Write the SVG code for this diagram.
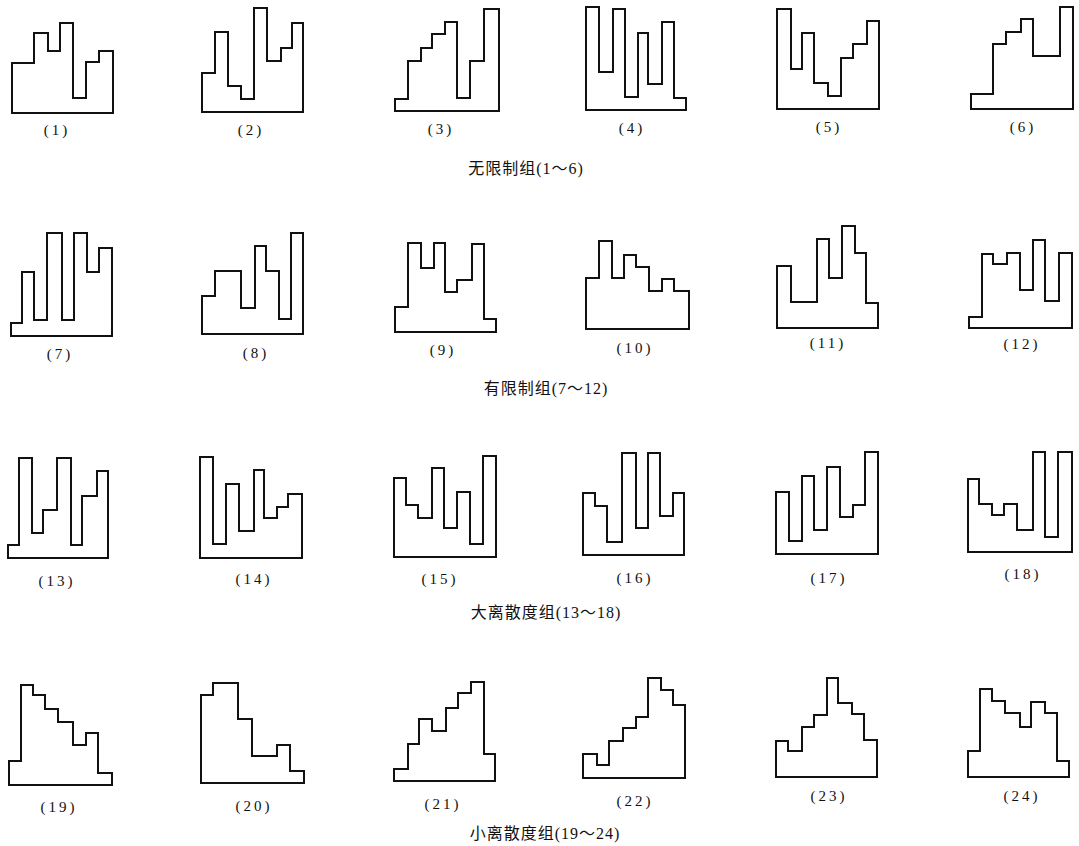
<svg xmlns="http://www.w3.org/2000/svg" width="1079" height="846" viewBox="0 0 1079 846">
<style>
.h{fill:none;stroke:#111;stroke-width:2;stroke-linejoin:miter}
.l{font-family:"Liberation Serif",serif;font-size:15px;fill:#111;text-anchor:middle;letter-spacing:3px}
.t{font-family:"Liberation Serif","Noto Sans CJK SC",serif;font-size:16px;fill:#111;text-anchor:middle;letter-spacing:1px}
</style>
<rect width="1079" height="846" fill="#fff"/>
<g id="row1">
<g id="h1"><path class="h" d="M12,113 V63 H34 V33 H48 V51 H60 V23 H73 V98 H86 V62 H99 V51 H113 V113 Z"/><text class="l" x="57" y="135">(1)</text></g>
<g id="h2"><path class="h" d="M202,112 V73 H215 V32 H228 V86 H241 V99 H254 V8 H267 V61 H281 V48 H292 V23 H303 V112 Z"/><text class="l" x="251" y="135">(2)</text></g>
<g id="h3"><path class="h" d="M395,111 V99 H408 V61 H421 V48 H432 V34 H445 V22 H457 V98 H470 V61 H484 V9 H499 V111 Z"/><text class="l" x="441" y="134">(3)</text></g>
<g id="h4"><path class="h" d="M586,110 V7 H599 V72 H613 V9 H625 V97 H638 V33 H648 V84 H662 V22 H674 V98 H686 V110 Z"/><text class="l" x="632" y="133">(4)</text></g>
<g id="h5"><path class="h" d="M777,109 V9 H791 V69 H802 V33 H814 V83 H828 V96 H841 V58 H853 V44 H867 V21 H879 V109 Z"/><text class="l" x="829" y="132">(5)</text></g>
<g id="h6"><path class="h" d="M971,109 V94 H993 V44 H1006 V32 H1021 V19 H1033 V56 H1060 V7 H1073 V109 Z"/><text class="l" x="1023" y="132">(6)</text></g>
<text class="t" x="526" y="174">无限制组(1～6)</text>
</g>
<g id="row2">
<g id="h7"><path class="h" d="M11,336 V323 H22 V272 H34 V320 H47 V233 H62 V320 H74 V233 H87 V272 H99 V248 H112 V336 Z"/><text class="l" x="60" y="359">(7)</text></g>
<g id="h8"><path class="h" d="M202,334 V296 H215 V271 H241 V308 H255 V246 H266 V271 H279 V319 H291 V233 H303 V334 Z"/><text class="l" x="256" y="358">(8)</text></g>
<g id="h9"><path class="h" d="M395,332 V307 H408 V243 H421 V268 H434 V243 H445 V292 H457 V280 H472 V244 H484 V319 H496 V332 Z"/><text class="l" x="443" y="355">(9)</text></g>
<g id="h10"><path class="h" d="M586,329 V278 H599 V241 H612 V278 H624 V255 H636 V267 H649 V291 H662 V279 H674 V291 H689 V329 Z"/><text class="l" x="635" y="353">(10)</text></g>
<g id="h11"><path class="h" d="M777,328 V266 H791 V302 H817 V239 H829 V278 H842 V226 H855 V253 H866 V303 H878 V328 Z"/><text class="l" x="828" y="348">(11)</text></g>
<g id="h12"><path class="h" d="M969,328 V317 H982 V254 H993 V264 H1007 V253 H1020 V290 H1033 V240 H1045 V301 H1059 V253 H1072 V328 Z"/><text class="l" x="1022" y="349">(12)</text></g>
<text class="t" x="546" y="394">有限制组(7～12)</text>
</g>
<g id="row3">
<g id="h13"><path class="h" d="M8,558 V545 H19 V458 H32 V533 H43 V510 H57 V458 H71 V545 H82 V496 H97 V471 H108 V558 Z"/><text class="l" x="57" y="586">(13)</text></g>
<g id="h14"><path class="h" d="M200,558 V457 H213 V544 H226 V484 H239 V531 H254 V470 H264 V518 H277 V507 H288 V494 H302 V558 Z"/><text class="l" x="254" y="584">(14)</text></g>
<g id="h15"><path class="h" d="M394,557 V478 H406 V505 H418 V518 H432 V468 H444 V528 H457 V492 H470 V544 H483 V456 H496 V557 Z"/><text class="l" x="440" y="584">(15)</text></g>
<g id="h16"><path class="h" d="M583,555 V493 H595 V506 H607 V542 H622 V453 H636 V528 H648 V453 H660 V516 H673 V493 H684 V555 Z"/><text class="l" x="635" y="583">(16)</text></g>
<g id="h17"><path class="h" d="M776,554 V492 H789 V541 H802 V476 H814 V530 H827 V467 H840 V517 H853 V505 H865 V452 H878 V554 Z"/><text class="l" x="829" y="583">(17)</text></g>
<g id="h18"><path class="h" d="M968,552 V479 H979 V504 H992 V515 H1004 V504 H1017 V530 H1033 V452 H1045 V537 H1058 V452 H1072 V552 Z"/><text class="l" x="1023" y="579">(18)</text></g>
<text class="t" x="546" y="618">大离散度组(13～18)</text>
</g>
<g id="row4">
<g id="h19"><path class="h" d="M9,785 V761 H21 V685 H33 V695 H45 V709 H58 V722 H73 V745 H86 V733 H98 V773 H112 V785 Z"/><text class="l" x="59" y="812">(19)</text></g>
<g id="h20"><path class="h" d="M201,783 V695 H213 V683 H238 V719 H252 V756 H277 V745 H290 V771 H304 V783 Z"/><text class="l" x="254" y="811">(20)</text></g>
<g id="h21"><path class="h" d="M394,781 V769 H408 V744 H419 V719 H432 V731 H446 V708 H458 V693 H471 V682 H484 V754 H495 V781 Z"/><text class="l" x="443" y="809">(21)</text></g>
<g id="h22"><path class="h" d="M583,778 V754 H597 V765 H609 V741 H623 V728 H636 V717 H648 V678 H661 V690 H673 V705 H685 V778 Z"/><text class="l" x="635" y="806">(22)</text></g>
<g id="h23"><path class="h" d="M776,777 V741 H788 V751 H802 V727 H814 V715 H827 V678 H838 V703 H852 V714 H864 V740 H877 V777 Z"/><text class="l" x="829" y="801">(23)</text></g>
<g id="h24"><path class="h" d="M968,777 V751 H980 V689 H992 V701 H1005 V713 H1020 V727 H1031 V702 H1045 V713 H1057 V761 H1069 V777 Z"/><text class="l" x="1022" y="801">(24)</text></g>
<text class="t" x="545" y="839">小离散度组(19～24)</text>
</g>
</svg>
